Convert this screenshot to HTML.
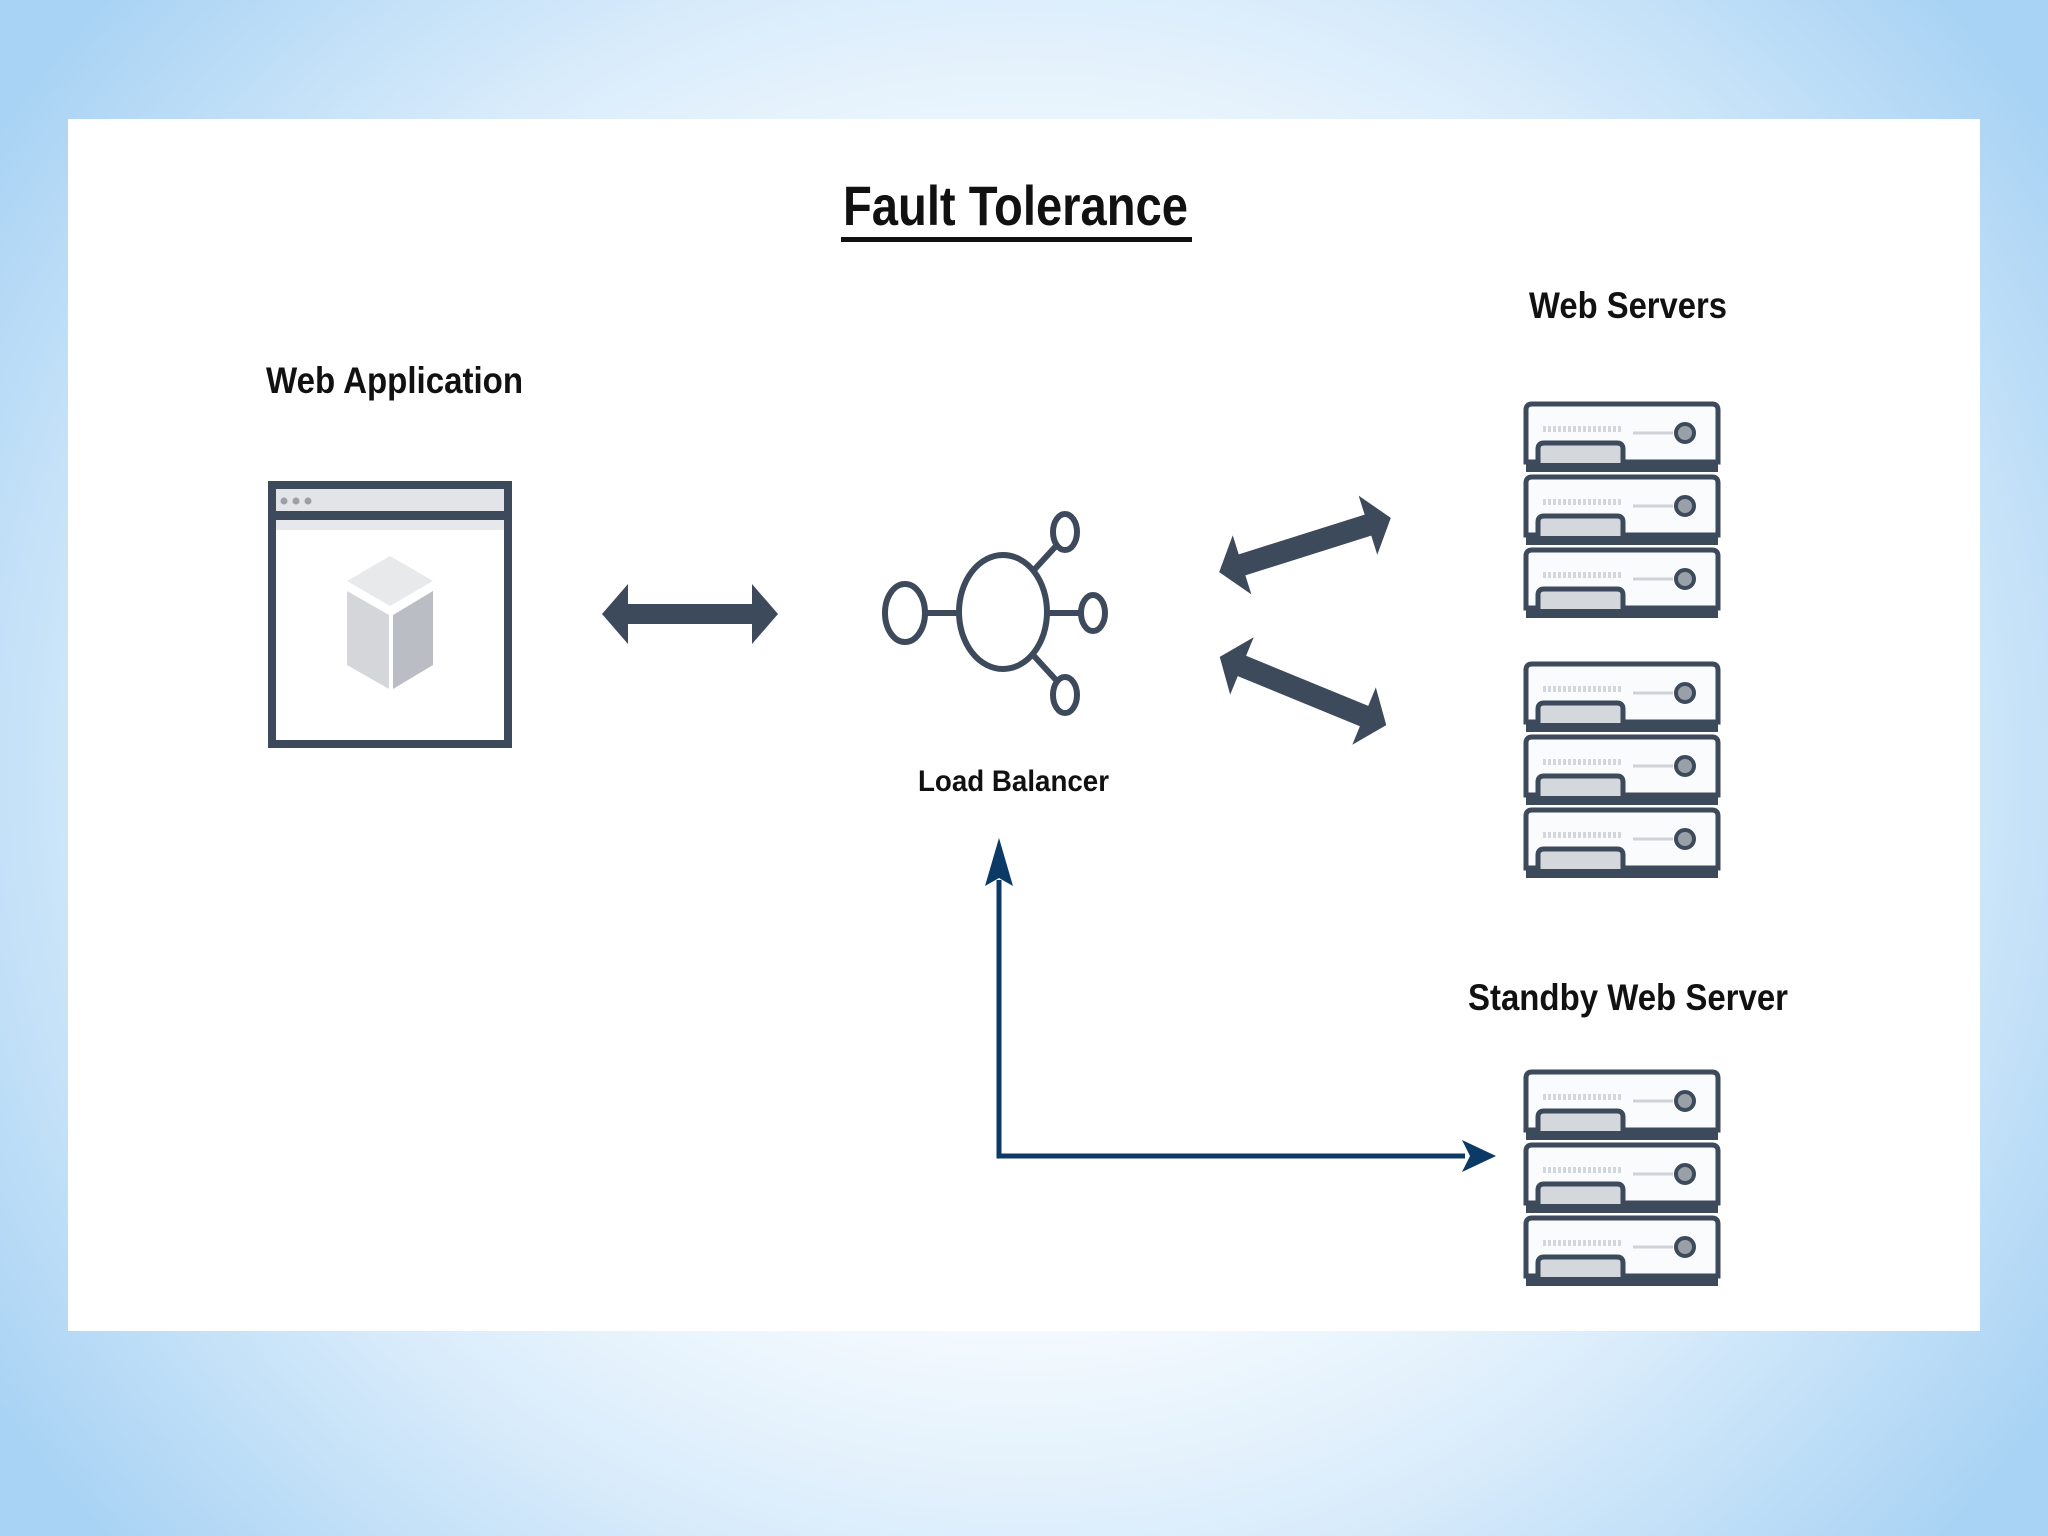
<!DOCTYPE html>
<html><head><meta charset="utf-8"><style>
html,body{margin:0;padding:0;width:2048px;height:1536px;overflow:hidden}
body{background:radial-gradient(ellipse 60% 75% at 50% 50%,#ffffff 40%,#d9ecfb 70%,#a9d3f4 100%);}
svg{position:absolute;left:0;top:0}
text{font-family:"Liberation Sans",sans-serif;fill:#111;font-weight:bold}
</style></head><body>
<svg width="2048" height="1536" viewBox="0 0 2048 1536">
<defs>
<g id="unit">
  <rect x="3" y="58" width="192" height="12" fill="#3d4a5c"/>
  <path d="M3 60 V8 Q3 2 9 2 H189 Q195 2 195 8 V60 Z" fill="#fafbfc" stroke="#3d4a5c" stroke-width="5"/>
  <line x1="20" y1="27" x2="100" y2="27" stroke="#d3d6da" stroke-width="6" stroke-dasharray="3 2"/>
  <line x1="110" y1="31" x2="150" y2="31" stroke="#cfd2d6" stroke-width="3"/>
  <circle cx="162" cy="31" r="9" fill="#9aa0a8" stroke="#3d4a5c" stroke-width="4"/>
  <path d="M15 61 V47 Q15 41 21 41 H94 Q100 41 100 47 V61" fill="#d4d7db" stroke="#3d4a5c" stroke-width="5"/>
</g>
<g id="stack">
  <use href="#unit" y="0"/><use href="#unit" y="73"/><use href="#unit" y="146"/>
</g>
</defs>
<rect x="68" y="119" width="1912" height="1212" fill="#fff"/>

<text x="843" y="225" font-size="56" textLength="345" lengthAdjust="spacingAndGlyphs">Fault Tolerance</text>
<rect x="841" y="237" width="351" height="5" fill="#111"/>

<text x="266" y="393" font-size="37" textLength="257" lengthAdjust="spacingAndGlyphs">Web Application</text>
<text x="918" y="791" font-size="30" textLength="191" lengthAdjust="spacingAndGlyphs">Load Balancer</text>
<text x="1529" y="318" font-size="37" textLength="198" lengthAdjust="spacingAndGlyphs">Web Servers</text>
<text x="1468" y="1010" font-size="37" textLength="320" lengthAdjust="spacingAndGlyphs">Standby Web Server</text>

<!-- window -->
<rect x="272" y="485" width="236" height="259" fill="#fff" stroke="#3d4a5c" stroke-width="8"/>
<rect x="276" y="489" width="228" height="22" fill="#e2e4e7"/>
<rect x="276" y="511" width="228" height="9" fill="#3d4a5c"/>
<rect x="276" y="520" width="228" height="10" fill="#e6e8eb"/>
<circle cx="284" cy="501" r="3.5" fill="#9aa0a8"/><circle cx="296" cy="501" r="3.5" fill="#9aa0a8"/><circle cx="308" cy="501" r="3.5" fill="#9aa0a8"/>
<polygon points="390,556 433,581 390,606 347,581" fill="#e8e9eb"/>
<polygon points="347,591 389,615 389,689 347,665" fill="#d4d6d9"/>
<polygon points="393,615 433,591 433,665 393,689" fill="#babec4"/>

<!-- double arrow -->
<polygon points="602,614 628,584 628,604 752,604 752,584 778,614 752,644 752,624 628,624 628,644" fill="#3d4a5c"/>

<!-- load balancer -->
<g fill="none" stroke="#3d4a5c" stroke-width="6">
  <ellipse cx="1003" cy="612" rx="44" ry="57"/>
  <ellipse cx="905" cy="613" rx="20" ry="29"/>
  <ellipse cx="1093" cy="613" rx="12" ry="18"/>
  <ellipse cx="1065" cy="532" rx="12" ry="18"/>
  <ellipse cx="1065" cy="695" rx="12" ry="18"/>
  <line x1="925" y1="613" x2="959" y2="613"/>
  <line x1="1047" y1="613" x2="1081" y2="613"/>
  <line x1="1034" y1="570" x2="1056" y2="546"/>
  <line x1="1034" y1="656" x2="1056" y2="680"/>
</g>

<!-- diagonal arrows -->
<g transform="translate(1305,545) rotate(-17.5)">
  <polygon points="-90,0 -66,-31 -66,-11 66,-11 66,-31 90,0 66,31 66,11 -66,11 -66,31" fill="#3d4a5c"/>
</g>
<g transform="translate(1303,691) rotate(22.3)">
  <polygon points="-90,0 -66,-31 -66,-11 66,-11 66,-31 90,0 66,31 66,11 -66,11 -66,31" fill="#3d4a5c"/>
</g>

<!-- servers -->
<use href="#stack" x="1523" y="402"/>
<use href="#stack" x="1523" y="662"/>
<use href="#stack" x="1523" y="1070"/>

<!-- navy connector -->
<polyline points="999,880 999,1156 1465,1156" fill="none" stroke="#0b3a66" stroke-width="5"/>
<polygon points="999,838 1013,886 999,878 985,886" fill="#0b3a66"/>
<polygon points="1496,1156 1462,1140 1470,1156 1462,1172" fill="#0b3a66"/>
</svg>
</body></html>
